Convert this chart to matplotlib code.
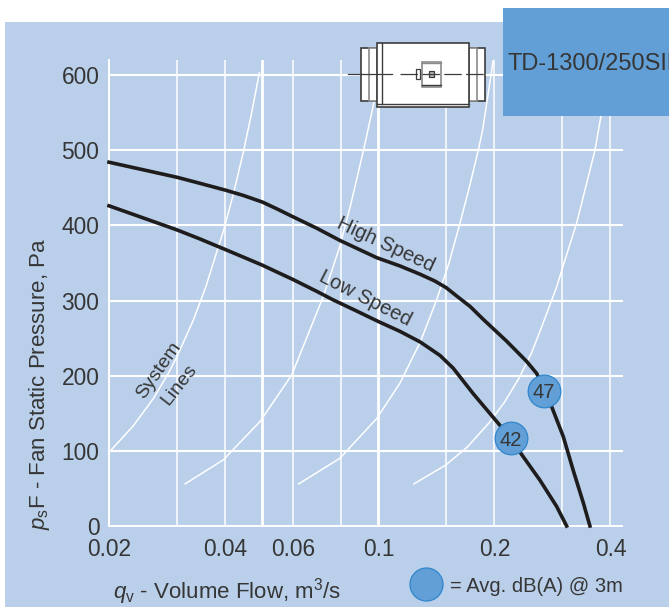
import matplotlib
matplotlib.use("Agg")
import matplotlib.pyplot as plt
from matplotlib.patches import Rectangle, Ellipse

# ---- data ----
high_q = [0.02, 0.0245, 0.03, 0.0344, 0.04, 0.0445, 0.05, 0.0545, 0.0597, 0.0693, 0.0794, 0.099,
          0.1137, 0.1282, 0.14, 0.15, 0.1596, 0.173, 0.187, 0.215, 0.2424, 0.2574, 0.2814, 0.3017, 0.3202, 0.34, 0.3538]
high_p = [484, 474, 464, 456, 447, 440, 431, 422, 412, 396, 380, 357,
          346, 335, 326, 317, 306, 292, 275, 246, 219, 203, 159, 119, 74, 31, 0]
low_q = [0.02, 0.0245, 0.03, 0.0344, 0.04, 0.0445, 0.05, 0.0545, 0.06, 0.0693, 0.0762, 0.087, 0.1,
         0.1137, 0.1282, 0.1444, 0.1563, 0.1762, 0.2066, 0.2339, 0.2624, 0.29, 0.3078]
low_p = [426, 410, 394, 382, 368, 358, 347, 338, 328, 312, 301, 287, 272,
         259, 245, 227, 210, 176, 134, 97, 61, 26, 0]

sys1_q = [0.02, 0.0231, 0.0261, 0.0285, 0.03, 0.0331, 0.0356, 0.0398, 0.042, 0.0446, 0.0469, 0.0491]
sys1_p = [98, 133, 170, 203, 225, 274, 317, 396, 441, 497, 550, 603]
sys2_q = [0.0315, 0.0396, 0.0493, 0.0596, 0.0664, 0.0719, 0.0794, 0.0845, 0.0915, 0.0975, 0.1005]
sys2_p = [56, 88, 139, 201, 261, 305, 372, 425, 500, 565, 600]
sys3_q = [0.0621, 0.0794, 0.099, 0.1137, 0.1285, 0.1416, 0.1525, 0.1628, 0.172, 0.1816, 0.1864, 0.195, 0.1985]
sys3_p = [56, 90, 143, 190, 245, 301, 350, 403, 450, 500, 527, 593, 620]
sys4_q = [0.1236, 0.1494, 0.17, 0.1935, 0.2125, 0.2318, 0.2495, 0.2652, 0.29, 0.3048, 0.3268, 0.3646, 0.3778, 0.397]
sys4_p = [56, 81, 105, 137, 165, 197, 230, 265, 318, 354, 403, 500, 545, 600]

point_q = [0.269, 0.221]
point_p = [180, 117]
point_db = ["47", "42"]

x_ticks = [0.02, 0.04, 0.06, 0.1, 0.2, 0.4]
x_tick_labels = ["0.02", "0.04", "0.06", "0.1", "0.2", "0.4"]
x_grid_thin = [0.03, 0.04, 0.06, 0.08, 0.15, 0.2, 0.3, 0.4]
x_grid_thick = [0.05, 0.1]
y_ticks = [0, 100, 200, 300, 400, 500, 600]

# ---- style ----
W, H = 669, 607
PANEL = "#B9CFEA"
BOX = "#629FD6"
INK = "#363636"
FONT = "Liberation Sans"
plt.rcParams["font.family"] = FONT
plt.rcParams["mathtext.fontset"] = "custom"
plt.rcParams["mathtext.rm"] = FONT
plt.rcParams["mathtext.it"] = FONT + ":italic"
plt.rcParams["mathtext.default"] = "regular"

fig = plt.figure(figsize=(W / 100, H / 100), dpi=100, facecolor="white")

def pixel_axes(z):
    a = fig.add_axes([0, 0, 1, 1], zorder=z)
    a.set_xlim(0, W)
    a.set_ylim(H, 0)
    a.axis("off")
    return a

bg = pixel_axes(0)
bg.add_patch(Rectangle((5, 22), W - 5, H - 22, fc=PANEL, ec="none"))

# main chart
L, R, T, B = 109, 622, 60, 526
ax = fig.add_axes([L / W, 1 - B / H, (R - L) / W, (B - T) / H], zorder=1)
ax.patch.set_visible(False)
ax.set_xscale("log")
ax.set_xlim(0.02, 0.4285)
ax.set_ylim(0, 620)

for s in ("top", "right"):
    ax.spines[s].set_visible(False)
for s in ("left", "bottom"):
    ax.spines[s].set_color("white")
    ax.spines[s].set_linewidth(1.4)

ax.set_xticks(x_ticks)
ax.set_xticklabels(x_tick_labels)
ax.set_xticks([], minor=True)
ax.set_yticks(y_ticks)
ax.tick_params(axis="x", length=0, pad=9, labelsize=16.4, labelcolor=INK)
ax.tick_params(axis="y", length=0, pad=7, labelsize=16.4, labelcolor=INK)

for q in x_grid_thin:
    ax.axvline(q, color="white", lw=1.1, zorder=1)
for q in x_grid_thick:
    ax.axvline(q, color="white", lw=2.0, zorder=1)
for p in y_ticks[1:]:
    ax.plot([0.02, 0.4285], [p, p], color="white", lw=1.5, zorder=1, clip_on=False)

for q, p in ((sys1_q, sys1_p), (sys2_q, sys2_p), (sys3_q, sys3_p), (sys4_q, sys4_p)):
    ax.plot(q, p, color="white", lw=1.1, zorder=2, solid_joinstyle="round")

ax.plot(high_q, high_p, color="#1E1C1C", lw=2.6, zorder=3, solid_joinstyle="round", clip_on=False)
ax.plot(low_q, low_p, color="#1E1C1C", lw=2.6, zorder=3, solid_joinstyle="round", clip_on=False)

ax.plot(point_q, point_p, ls="none", marker="o", ms=23.5, mfc=BOX, mec="#2F86CC", mew=0.9, zorder=4)
for q, p, t in zip(point_q, point_p, point_db):
    ax.text(q, p, t, ha="center", va="center_baseline", fontsize=14.5, color=INK, zorder=5)

ax.set_xlabel(r"$\mathit{q}_{v}$ - Volume Flow, m$^{3}$/s", fontsize=16, color=INK, ha="left", va="center")
ax.xaxis.set_label_coords((113 - L) / (R - L), (B - 592) / (B - T))
ax.set_ylabel(r"$\mathit{p}_{s}$F - Fan Static Pressure, Pa", fontsize=16, color=INK, va="center", ha="center")
ax.yaxis.set_label_coords((40 - L) / (R - L), (B - 384) / (B - T))

# overlay: title box, fan icon, labels
ov = pixel_axes(2)
ov.add_patch(Rectangle((503, 8), W - 503, 108, fc=BOX, ec="none"))
ov.text(507, 61, "TD-1300/250SIL", fontsize=17, color=INK, ha="left", va="center_baseline")

EDGE = "#3C3C3C"
GREY = "#8A8A8A"
def box(x0, y0, x1, y1, fc="white", ec=EDGE, lw=1.2, z=3):
    ov.add_patch(Rectangle((x0, y0), x1 - x0, y1 - y0, fc=fc, ec=ec, lw=lw, zorder=z))

box(361, 47.5, 376.7, 100.5)
box(368.7, 47.5, 376.7, 100.5, ec=GREY)
box(469.3, 47.5, 485.3, 100.5)
box(469.3, 47.5, 477.3, 100.5, ec=GREY)
box(376.7, 43.3, 469.3, 107.3)
ov.plot([376.7, 469.3], [103.5, 103.5], color=EDGE, lw=1.0, zorder=4)
ov.plot([381.5, 381.5], [43.3, 103.5], color=EDGE, lw=1.0, zorder=4)
box(422.3, 62, 441, 86.7, ec=GREY, z=4)
ov.plot([422.3, 441], [84.5, 84.5], color=EDGE, lw=1.0, zorder=5)
ov.plot([422.3, 441], [62.8, 62.8], color=GREY, lw=1.0, zorder=5)
box(416.3, 69.3, 420.3, 78.7, lw=0.9, z=5)
box(429.3, 71.3, 434.3, 77.3, fc="#B5B5B5", lw=0.9, z=5)
ov.plot([348, 392], [74, 74], color=EDGE, lw=0.9, zorder=6)
ov.plot([400, 487], [74, 74], color=EDGE, lw=0.9, zorder=6, dashes=(14, 3.5))

LBL = dict(color=INK, ha="center", va="center", rotation_mode="anchor")
ov.text(386, 245, "High Speed", fontsize=14.5, rotation=-25, **LBL)
ov.text(365, 298, "Low Speed", fontsize=14.5, rotation=-27, **LBL)
ov.text(159, 370, "System", fontsize=14, rotation=55, **LBL)
ov.text(179, 385, "Lines", fontsize=14, rotation=52, **LBL)

ov.add_patch(Ellipse((426.5, 584.5), 33, 33, fc=BOX, ec="#2F86CC", lw=0.9))
ov.text(450, 586, "= Avg. dB(A) @ 3m", fontsize=14.5, color=INK, ha="left", va="center")

fig.savefig("out.png", dpi=100)
